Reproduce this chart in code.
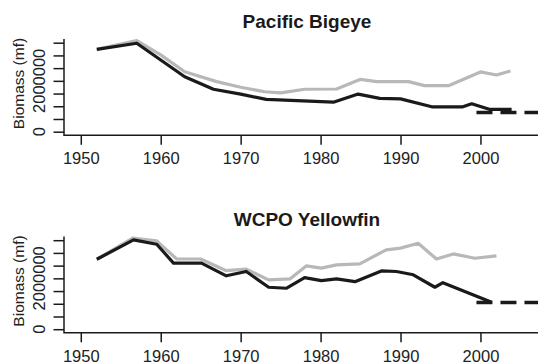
<!DOCTYPE html>
<html>
<head>
<meta charset="utf-8">
<script src="https://cdn.jsdelivr.net/npm/d3@7"></script>
<style>
  body { margin: 0; background: #fff; }
  svg { display: block; font-family: 'Liberation Sans', Arial, Helvetica, sans-serif; }
</style>
</head>
<body>
<div id="chart"></div>
<script>
// Pacific Bigeye
const bigeyeGrayYears = [1952, 1957, 1960, 1963, 1967, 1970, 1973, 1975, 1978, 1982, 1985, 1987, 1991, 1993, 1996, 2000, 2002, 2003.75]
const bigeyeGrayValues = [3240000, 3580000, 3020000, 2360000, 1970000, 1750000, 1570000, 1530000, 1670000, 1680000, 2060000, 1970000, 1970000, 1810000, 1810000, 2350000, 2230000, 2390000]
const bigeyeBlackYears = [1952, 1957, 1963, 1966.6, 1970, 1973.2, 1981.6, 1984.7, 1987.4, 1990, 1993.9, 1997.8, 1998.9, 2001.1, 2003.9]
const bigeyeBlackValues = [3240000, 3480000, 2160000, 1670000, 1480000, 1270000, 1160000, 1480000, 1310000, 1290000, 980000, 980000, 1100000, 880000, 880000]
const bigeyeRefYears = [1999.5, 2009]
const bigeyeRefValue = 755000

// WCPO Yellowfin
const yellowGrayYears = [1952, 1956.5, 1959.5, 1962, 1965, 1968.2, 1970.7, 1973.5, 1976.2, 1978.2, 1980.1, 1982, 1984.9, 1988.2, 1990, 1992.2, 1994.5, 1996.6, 1999.3, 2002]
const yellowGrayValues = [2750000, 3580000, 3470000, 2760000, 2760000, 2300000, 2360000, 1940000, 1980000, 2490000, 2400000, 2530000, 2570000, 3120000, 3190000, 3380000, 2760000, 2960000, 2790000, 2880000]
const yellowBlackYears = [1952, 1956.6, 1959.5, 1961.6, 1965.1, 1968.2, 1970.7, 1973.5, 1975.7, 1978, 1980.1, 1982, 1984.3, 1987.6, 1989.5, 1991.6, 1994.3, 1995.3, 2001.4]
const yellowBlackValues = [2750000, 3510000, 3340000, 2600000, 2600000, 2100000, 2270000, 1650000, 1610000, 2030000, 1910000, 1980000, 1870000, 2290000, 2270000, 2140000, 1650000, 1830000, 1060000]
const yellowRefYears = [1999.5, 2009]
const yellowRefValue = 1050000

const xTicks = [1950, 1960, 1970, 1980, 1990, 2000]
const yTicks = [0, 500000, 1000000, 1500000, 2000000, 2500000, 3000000, 3500000]
const yLabelled = [0, 2000000]

const width = 538
const height = 362

const svg = d3
  .select('#chart')
  .append('svg')
  .attr('width', width)
  .attr('height', height)

const xPositionScale = d3
  .scaleLinear()
  .domain([1947.9, 2008.7])
  .range([64, 550])
const yPositionScale = d3
  .scaleLinear()
  .domain([0, 3500000])
  .range([131.7, 42.7])

const line = d3
  .line()
  .x(d => xPositionScale(d[0]))
  .y(d => yPositionScale(d[1]))

function drawPanel(offset, title, grayYears, grayValues, blackYears, blackValues, refYears, refValue) {
  const g = svg.append('g').attr('transform', 'translate(0,' + offset + ')')

  g.append('text')
    .text(title)
    .attr('x', 307)
    .attr('y', 28.3)
    .attr('text-anchor', 'middle')
    .attr('font-size', 19)
    .attr('font-weight', 'bold')
    .attr('fill', '#1a1a1a')

  const axisY = 135.3

  // L shaped box
  g.append('path')
    .attr('d', 'M64,39V' + axisY + 'H' + xPositionScale.range()[1])
    .attr('fill', 'none')
    .attr('stroke', '#1a1a1a')
    .attr('stroke-width', 1.5)

  const xAxis = d3
    .axisBottom(xPositionScale)
    .tickValues(xTicks)
    .tickSize(9.5)
    .tickSizeOuter(0)
    .tickPadding(7.5)
    .tickFormat(d3.format('d'))
  const xg = g
    .append('g')
    .attr('class', 'axis x-axis')
    .attr('transform', 'translate(0,' + axisY + ')')
    .call(xAxis)
  xg.select('.domain').remove()
  xg.selectAll('line').attr('stroke', '#1a1a1a').attr('stroke-width', 1.5)
  xg.selectAll('text')
    .attr('font-size', 16.5)
    .attr('fill', '#222')

  const yAxis = d3
    .axisLeft(yPositionScale)
    .tickValues(yTicks)
    .tickSize(10.5)
    .tickSizeOuter(0)
    .tickFormat('')
  const yg = g
    .append('g')
    .attr('class', 'axis y-axis')
    .attr('transform', 'translate(64,0)')
    .call(yAxis)
  yg.select('.domain').remove()
  yg.selectAll('line').attr('stroke', '#1a1a1a').attr('stroke-width', 1.5)

  g.selectAll('.ylab')
    .data(yLabelled)
    .enter()
    .append('text')
    .attr('class', 'ylab')
    .text(d => d3.format('d')(d))
    .attr('transform', d => 'translate(45,' + yPositionScale(d) + ') rotate(-90)')
    .attr('text-anchor', 'middle')
    .attr('font-size', 16.5)
    .attr('fill', '#222')

  g.append('text')
    .text('Biomass (mf)')
    .attr('transform', 'translate(23.5,83.5) rotate(-90)')
    .attr('text-anchor', 'middle')
    .attr('font-size', 15.5)
    .attr('fill', '#222')

  g.append('path')
    .datum(d3.zip(grayYears, grayValues))
    .attr('d', line)
    .attr('fill', 'none')
    .attr('stroke', '#b8b8b8')
    .attr('stroke-width', 3.2)
    .attr('stroke-linejoin', 'round')

  g.append('path')
    .datum(d3.zip(blackYears, blackValues))
    .attr('d', line)
    .attr('fill', 'none')
    .attr('stroke', '#1a1a1a')
    .attr('stroke-width', 3.2)
    .attr('stroke-linejoin', 'round')

  g.append('path')
    .datum(refYears.map(y => [y, refValue]))
    .attr('d', line)
    .attr('fill', 'none')
    .attr('stroke', '#1a1a1a')
    .attr('stroke-width', 3.4)
    .attr('stroke-dasharray', '16,8')
}

drawPanel(0, 'Pacific Bigeye', bigeyeGrayYears, bigeyeGrayValues, bigeyeBlackYears, bigeyeBlackValues, bigeyeRefYears, bigeyeRefValue)
drawPanel(197.5, 'WCPO Yellowfin', yellowGrayYears, yellowGrayValues, yellowBlackYears, yellowBlackValues, yellowRefYears, yellowRefValue)
</script>
</body>
</html>
